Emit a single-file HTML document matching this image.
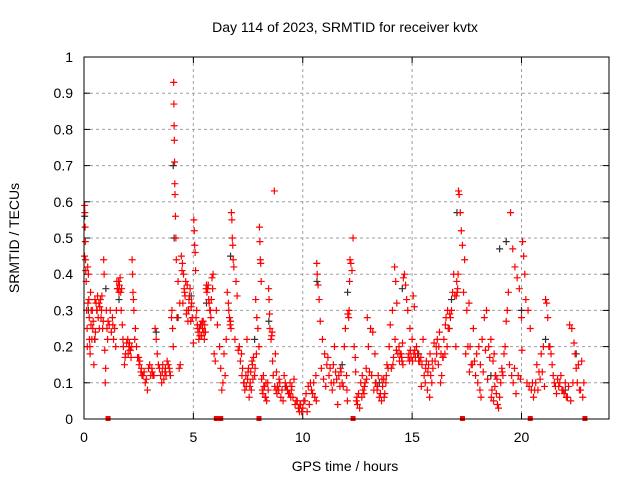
<!DOCTYPE html>
<html><head><meta charset="utf-8"><style>
body{margin:0;background:#fff;}
svg{display:block;font-family:"Liberation Sans",sans-serif;}
</style></head><body>
<svg id="chart" width="640" height="480">
<text x="345" y="32" font-size="14" text-anchor="middle" fill="#000">Day 114 of 2023, SRMTID for receiver kvtx</text>
<text x="345" y="471" font-size="14" text-anchor="middle" fill="#000">GPS time / hours</text>
<text transform="translate(19,238) rotate(-90)" font-size="14" text-anchor="middle" fill="#000">SRMTID / TECUs</text>
<g id="grid"></g>
<g id="ticks"></g>
<g id="black"></g>
<g id="red"></g>
<rect x="84" y="57" width="525" height="362" fill="none" stroke="#000" stroke-width="1"/>
</svg>
<script>
const xTicks=[0,5,10,15,20];
const yTicks=[0,0.1,0.2,0.3,0.4,0.5,0.6,0.7,0.8,0.9,1];
const yTickLabels=["0","0.1","0.2","0.3","0.4","0.5","0.6","0.7","0.8","0.9","1"];
const redT=[0.02,0.03,0.04,0.05,0.06,0.07,0.08,0.12,0.15,0.17,0.2,0.22,0.25,0.28,0.3,0.33,0.36,0.4,0.45,0.5,0.55,0.6,0.65,0.7,0.75,0.8,0.85,0.9,0.92,0.95,0.97,0.99,1.05,1.1,1.2,1.3,1.35,1.45,1.5,1.55,1.6,1.65,1.7,1.75,1.8,1.85,1.9,2.0,2.05,2.1,2.15,2.2,2.22,2.24,2.26,2.28,2.35,2.4,2.5,2.55,2.6,2.7,2.8,2.9,3.0,3.1,3.15,3.25,3.3,3.35,3.4,3.5,3.55,3.6,3.7,3.75,3.8,3.9,3.95,4.0,4.02,4.05,4.08,4.1,4.11,4.12,4.13,4.14,4.15,4.16,4.18,4.2,4.22,4.3,4.35,4.4,4.45,4.5,4.55,4.6,4.65,4.7,4.75,4.8,4.85,4.9,4.95,5.0,5.02,5.04,5.06,5.08,5.1,5.15,5.2,5.3,5.35,5.4,5.5,5.55,5.6,5.65,5.7,5.75,5.8,5.85,5.9,5.95,6.0,6.05,6.1,6.2,6.25,6.3,6.35,6.4,6.5,6.55,6.6,6.65,6.7,6.72,6.74,6.76,6.78,6.8,6.82,6.85,6.95,7.0,7.1,7.2,7.25,7.3,7.35,7.4,7.45,7.5,7.55,7.6,7.65,7.7,7.75,7.8,7.85,7.9,7.95,8.0,8.02,8.04,8.06,8.08,8.1,8.2,8.25,8.3,8.35,8.4,8.42,8.44,8.46,8.48,8.5,8.6,8.7,8.75,8.8,8.9,8.95,9.0,9.1,9.2,9.3,9.4,9.45,9.5,9.6,9.7,9.8,9.85,9.9,10.0,10.1,10.2,10.3,10.4,10.5,10.55,10.6,10.62,10.64,10.66,10.7,10.75,10.8,10.9,11.0,11.1,11.2,11.3,11.35,11.4,11.45,11.5,11.6,11.7,11.75,11.8,11.9,11.95,12.0,12.02,12.04,12.06,12.1,12.12,12.14,12.16,12.2,12.25,12.3,12.35,12.4,12.45,12.5,12.6,12.7,12.75,12.8,12.85,12.9,12.95,13.0,13.1,13.2,13.3,13.35,13.4,13.45,13.5,13.6,13.65,13.7,13.75,13.8,13.85,13.9,13.95,14.0,14.1,14.2,14.25,14.3,14.4,14.5,14.52,14.54,14.56,14.58,14.6,14.65,14.7,14.75,14.8,14.9,15.0,15.05,15.1,15.2,15.25,15.3,15.4,15.45,15.5,15.6,15.7,15.8,15.9,16.0,16.1,16.2,16.3,16.35,16.4,16.5,16.6,16.7,16.75,16.8,16.85,16.9,16.95,17.0,17.02,17.04,17.06,17.08,17.1,17.12,17.15,17.2,17.25,17.3,17.4,17.5,17.6,17.65,17.7,17.8,17.85,17.9,18.0,18.1,18.15,18.2,18.3,18.4,18.45,18.5,18.6,18.7,18.75,18.8,18.85,18.9,18.95,19.0,19.05,19.1,19.12,19.15,19.2,19.25,19.3,19.35,19.4,19.5,19.6,19.7,19.8,19.9,20.0,20.02,20.05,20.1,20.15,20.2,20.3,20.4,20.5,20.6,20.7,20.8,20.9,21.0,21.05,21.1,21.15,21.2,21.3,21.4,21.5,21.6,21.7,21.8,21.9,22.0,22.1,22.2,22.3,22.4,22.45,22.5,22.55,22.6,22.7,22.8,22.85];
const redV=[0.45,0.59,0.57,0.53,0.49,0.44,0.41,0.3,0.2,0.42,0.4,0.33,0.22,0.18,0.35,0.3,0.22,0.25,0.15,0.33,0.32,0.3,0.28,0.25,0.33,0.3,0.25,0.44,0.4,0.19,0.1,0.14,0.25,0.27,0.3,0.28,0.22,0.2,0.38,0.36,0.35,0.39,0.3,0.26,0.2,0.15,0.18,0.22,0.2,0.19,0.17,0.44,0.4,0.35,0.33,0.3,0.25,0.2,0.17,0.16,0.13,0.12,0.1,0.08,0.15,0.14,0.12,0.25,0.22,0.18,0.15,0.12,0.1,0.15,0.13,0.12,0.16,0.14,0.12,0.28,0.3,0.25,0.2,0.93,0.87,0.81,0.77,0.71,0.65,0.62,0.56,0.5,0.44,0.38,0.14,0.15,0.45,0.43,0.4,0.35,0.38,0.3,0.27,0.33,0.36,0.31,0.28,0.21,0.55,0.52,0.48,0.46,0.41,0.3,0.25,0.23,0.26,0.27,0.22,0.24,0.37,0.36,0.33,0.3,0.28,0.39,0.4,0.18,0.16,0.3,0.26,0.2,0.14,0.08,0.1,0.18,0.22,0.35,0.32,0.28,0.27,0.25,0.57,0.55,0.5,0.48,0.44,0.42,0.38,0.34,0.2,0.18,0.14,0.1,0.08,0.12,0.22,0.13,0.06,0.1,0.08,0.15,0.17,0.12,0.33,0.28,0.25,0.2,0.53,0.49,0.44,0.43,0.38,0.12,0.09,0.06,0.05,0.1,0.08,0.36,0.33,0.29,0.25,0.24,0.63,0.18,0.13,0.08,0.1,0.06,0.05,0.1,0.08,0.07,0.06,0.09,0.11,0.05,0.03,0.02,0.04,0.03,0.05,0.02,0.04,0.08,0.1,0.06,0.12,0.05,0.43,0.4,0.37,0.33,0.27,0.22,0.18,0.15,0.12,0.1,0.08,0.15,0.2,0.13,0.04,0.09,0.13,0.1,0.2,0.25,0.12,0.08,0.05,0.29,0.28,0.3,0.38,0.44,0.43,0.41,0.5,0.2,0.17,0.05,0.04,0.03,0.06,0.08,0.07,0.1,0.14,0.28,0.2,0.25,0.24,0.18,0.1,0.08,0.12,0.06,0.05,0.09,0.11,0.07,0.1,0.15,0.14,0.2,0.26,0.3,0.42,0.38,0.32,0.2,0.18,0.17,0.16,0.21,0.15,0.39,0.4,0.37,0.33,0.3,0.25,0.22,0.34,0.31,0.2,0.18,0.16,0.17,0.15,0.22,0.1,0.08,0.06,0.1,0.21,0.2,0.15,0.1,0.12,0.17,0.18,0.2,0.25,0.28,0.3,0.35,0.4,0.34,0.2,0.34,0.38,0.35,0.36,0.4,0.63,0.62,0.57,0.52,0.48,0.44,0.3,0.32,0.2,0.15,0.25,0.16,0.12,0.1,0.08,0.06,0.22,0.28,0.3,0.11,0.2,0.22,0.16,0.18,0.12,0.07,0.04,0.03,0.06,0.1,0.14,0.13,0.12,0.18,0.2,0.27,0.3,0.35,0.57,0.47,0.42,0.39,0.36,0.28,0.19,0.49,0.45,0.4,0.33,0.3,0.25,0.1,0.08,0.15,0.13,0.18,0.2,0.09,0.33,0.32,0.28,0.2,0.15,0.1,0.07,0.09,0.12,0.08,0.1,0.06,0.26,0.25,0.21,0.18,0.14,0.1,0.15,0.08,0.06,0.1,0.05,0.03,0.07,0.09,0.12,0.04,0.2,0.19,0.17,0.14,0.23,0.12,0.15,0.12];
const red2T=[0.1,0.14,0.18,0.24,0.27,0.32,0.38,0.42,0.48,0.52,0.58,0.62,0.68,0.72,0.78,0.82,0.88,1.02,1.08,1.15,1.25,1.32,1.4,1.48,1.52,1.58,1.62,1.68,1.72,1.78,1.88,1.95,2.02,2.08,2.12,2.18,2.32,2.45,2.52,2.62,2.65,2.75,2.85,2.95,3.05,3.12,3.2,3.45,3.58,3.65,3.72,3.85,3.92,4.25,4.38,4.48,4.52,4.58,4.62,4.68,4.72,4.78,4.82,4.88,4.92,5.12,5.18,5.22,5.25,5.28,5.32,5.38,5.42,5.45,5.48,5.52,5.58,5.62,5.68,5.72,5.78,5.82,5.88,6.45,6.62,6.68,6.9,7.05,7.15,7.22,7.32,7.42,7.48,7.52,7.58,7.62,7.68,7.72,7.82,7.88,8.12,8.15,8.18,8.22,8.28,8.32,8.55,8.58,8.62,8.65,8.72,8.78,8.82,8.85,8.92,9.05,9.15,9.25,9.35,9.42,9.48,9.55,9.65,9.75,9.82,9.88,9.95,10.05,10.15,10.25,10.35,10.45,10.85,10.95,11.05,11.15,11.25,11.42,11.55,11.65,11.72,11.85,12.42,12.48,12.55,12.65,12.72,12.82,12.92,13.05,13.15,13.25,13.32,13.42,13.55,13.62,13.72,13.82,14.05,14.12,14.15,14.22,14.28,14.35,14.42,14.45,14.82,14.85,14.88,14.92,14.95,15.02,15.08,15.12,15.15,15.35,15.42,15.55,15.62,15.65,15.72,15.75,15.82,15.85,15.92,15.95,16.05,16.12,16.15,16.22,16.25,16.32,16.42,16.45,16.52,16.55,16.62,16.65,16.72,17.35,17.45,17.55,17.62,17.75,17.95,18.05,18.12,18.25,18.35,18.55,18.62,18.65,18.72,18.78,18.82,18.88,19.45,19.55,19.62,19.68,19.75,19.85,19.95,20.25,20.35,20.45,20.55,20.65,20.75,20.85,20.95,21.25,21.35,21.45,21.55,21.65,21.75,21.85,21.95,22.05,22.15,22.25,22.35,22.65,22.75];
const red2V=[0.38,0.25,0.32,0.28,0.2,0.26,0.3,0.27,0.22,0.24,0.3,0.34,0.32,0.31,0.28,0.34,0.27,0.3,0.22,0.26,0.24,0.26,0.25,0.3,0.36,0.38,0.37,0.35,0.36,0.22,0.17,0.21,0.18,0.21,0.19,0.2,0.22,0.17,0.15,0.14,0.12,0.13,0.11,0.14,0.12,0.13,0.12,0.14,0.13,0.11,0.14,0.15,0.13,0.28,0.32,0.41,0.32,0.36,0.34,0.29,0.37,0.3,0.34,0.27,0.32,0.28,0.26,0.24,0.22,0.25,0.26,0.23,0.25,0.27,0.24,0.26,0.36,0.35,0.37,0.32,0.3,0.33,0.36,0.12,0.3,0.26,0.22,0.19,0.16,0.12,0.1,0.09,0.11,0.14,0.09,0.13,0.16,0.11,0.14,0.18,0.11,0.08,0.07,0.09,0.06,0.1,0.22,0.23,0.16,0.12,0.09,0.08,0.07,0.09,0.11,0.08,0.12,0.09,0.07,0.1,0.08,0.06,0.04,0.05,0.03,0.04,0.02,0.05,0.07,0.09,0.1,0.07,0.14,0.11,0.09,0.17,0.14,0.1,0.11,0.12,0.14,0.09,0.13,0.06,0.07,0.1,0.12,0.09,0.11,0.13,0.12,0.08,0.1,0.09,0.07,0.11,0.06,0.12,0.14,0.15,0.17,0.22,0.19,0.18,0.16,0.18,0.17,0.18,0.16,0.19,0.17,0.16,0.18,0.19,0.17,0.16,0.09,0.12,0.14,0.16,0.13,0.15,0.18,0.12,0.16,0.14,0.16,0.18,0.22,0.2,0.24,0.18,0.17,0.22,0.26,0.28,0.3,0.25,0.29,0.35,0.18,0.2,0.13,0.15,0.18,0.2,0.15,0.13,0.19,0.17,0.06,0.08,0.05,0.09,0.12,0.11,0.15,0.12,0.1,0.14,0.07,0.12,0.11,0.1,0.09,0.08,0.06,0.1,0.08,0.11,0.13,0.2,0.18,0.12,0.09,0.11,0.1,0.08,0.07,0.06,0.09,0.05,0.1,0.08,0.16,0.14];
const blackT=[0.03,0.2,0.5,1.0,1.6,3.3,4.08,4.12,4.3,4.9,5.6,6.7,7.8,8.45,9.2,10.65,11.8,12.05,13.5,14.55,15.3,16.8,17.05,18.6,19.0,19.3,20.0,21.1,22.0,22.5];
const blackV=[0.56,0.3,0.22,0.36,0.33,0.24,0.7,0.5,0.28,0.34,0.32,0.45,0.22,0.27,0.09,0.38,0.15,0.35,0.1,0.36,0.18,0.33,0.57,0.12,0.47,0.49,0.3,0.22,0.08,0.18];
const zeroT=[1.1,6.05,6.25,8.0,12.3,17.3,20.4,22.9];
const zeroV=[0,0,0,0,0,0,0,0];
const X0=84,XW=525,XMAX=24,Y0=419,YH=362;
const sx=t=>X0+t/XMAX*XW, sy=v=>Y0-v*YH;
const NS="http://www.w3.org/2000/svg";
function mk(tag,attrs,parent){const e=document.createElementNS(NS,tag);for(const k in attrs)e.setAttribute(k,attrs[k]);parent.appendChild(e);return e;}
const grid=document.getElementById('grid'),ticks=document.getElementById('ticks');
xTicks.forEach(t=>{const x=sx(t);
 if(t>0){const g=mk('line',{x1:x,x2:x,y1:57,y2:419,stroke:'#a0a0a0','stroke-dasharray':'3,3'},grid);
 
 }
 mk('line',{x1:x,x2:x,y1:419,y2:413,stroke:'#000'},ticks);
 mk('line',{x1:x,x2:x,y1:57,y2:63,stroke:'#000'},ticks);
 const l=mk('text',{x:x,y:442,'font-size':14,'text-anchor':'middle'},ticks);l.textContent=t;
 
 });
yTicks.forEach((v,i)=>{const y=sy(v);
 if(v>0&&v<1){const g=mk('line',{x1:84,x2:609,y1:y,y2:y,stroke:'#a0a0a0','stroke-dasharray':'3,3'},grid);
 
 }
 mk('line',{x1:84,x2:90,y1:y,y2:y,stroke:'#000'},ticks);
 mk('line',{x1:603,x2:609,y1:y,y2:y,stroke:'#000'},ticks);
 const l=mk('text',{x:73,y:y+5,'font-size':14,'text-anchor':'end'},ticks);l.textContent=yTickLabels[i];
 
 });
function plus(g,t,v,col){const x=sx(t),y=sy(v);
 const p=mk('path',{d:`M${x-3.5} ${y}h7M${x} ${y-3.5}v7`,stroke:col,'stroke-width':1.2,fill:'none'},g);
 
 }
const bg=document.getElementById('black'),rg=document.getElementById('red');
blackT.forEach((t,i)=>plus(bg,t,blackV[i],'#303030'));
redT.forEach((t,i)=>plus(rg,t,redV[i],'#ff0000'));
red2T.forEach((t,i)=>plus(rg,t,red2V[i],'#ff0000'));
zeroT.forEach((t,i)=>{const r=mk('rect',{x:sx(t)-2.5,y:sy(zeroV[i])-3,width:5,height:5,fill:'#ff0000'},rg);
 
 });
</script>
</body></html>
